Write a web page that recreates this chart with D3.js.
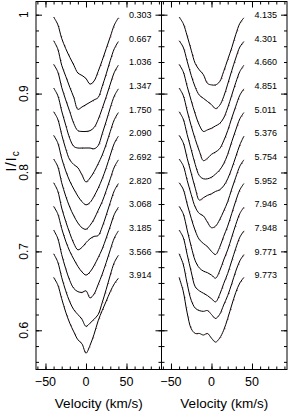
<!DOCTYPE html>
<html>
<head>
<meta charset="utf-8">
<script src="https://cdn.jsdelivr.net/npm/d3@7"></script>
<style>
    body { margin: 0; background: #fff; }
    svg text { font-family: "Liberation Sans", Arial, sans-serif; fill: #000; }
</style>
</head>
<body>
<svg id="chart"></svg>
<script>
// velocity grid (km/s) of the line profiles
const velocity = [-40, -35, -30, -25, -20, -15, -10, -5, 0, 5, 10, 15, 20, 25, 30, 35, 40];

// rotation phases written next to each profile
const phasesLeft = ["0.303", "0.667", "1.036", "1.347", "1.750", "2.090",
    "2.692", "2.820", "3.068", "3.185", "3.566", "3.914"];
const phasesRight = ["4.135", "4.301", "4.660", "4.851", "5.011", "5.376",
    "5.754", "5.952", "7.946", "7.948", "9.771", "9.773"];

// line depth below the (shifted) continuum, one row per phase
const depthsLeft = [
    [0.003, 0.012, 0.030, 0.043, 0.054, 0.064, 0.074, 0.077, 0.081, 0.088, 0.084, 0.072, 0.058, 0.043, 0.028, 0.013, 0.004],
    [0.003, 0.013, 0.034, 0.048, 0.062, 0.075, 0.090, 0.087, 0.084, 0.081, 0.078, 0.075, 0.061, 0.045, 0.028, 0.013, 0.004],
    [0.003, 0.012, 0.032, 0.048, 0.063, 0.078, 0.087, 0.088, 0.088, 0.087, 0.083, 0.073, 0.059, 0.044, 0.028, 0.013, 0.004],
    [0.003, 0.012, 0.032, 0.050, 0.067, 0.077, 0.079, 0.079, 0.079, 0.079, 0.080, 0.076, 0.061, 0.045, 0.028, 0.013, 0.004],
    [0.003, 0.012, 0.032, 0.050, 0.064, 0.070, 0.074, 0.083, 0.092, 0.087, 0.079, 0.069, 0.058, 0.044, 0.028, 0.013, 0.004],
    [0.003, 0.012, 0.032, 0.048, 0.061, 0.071, 0.080, 0.087, 0.091, 0.088, 0.080, 0.070, 0.058, 0.044, 0.028, 0.013, 0.004],
    [0.003, 0.012, 0.033, 0.050, 0.064, 0.075, 0.084, 0.090, 0.092, 0.087, 0.079, 0.068, 0.057, 0.043, 0.028, 0.013, 0.004],
    [0.003, 0.013, 0.035, 0.052, 0.067, 0.080, 0.088, 0.085, 0.079, 0.074, 0.071, 0.070, 0.059, 0.044, 0.028, 0.013, 0.004],
    [0.003, 0.012, 0.031, 0.047, 0.060, 0.070, 0.079, 0.086, 0.090, 0.086, 0.078, 0.068, 0.057, 0.043, 0.028, 0.013, 0.004],
    [0.003, 0.013, 0.034, 0.052, 0.067, 0.077, 0.081, 0.082, 0.080, 0.089, 0.084, 0.072, 0.059, 0.044, 0.028, 0.013, 0.004],
    [0.003, 0.013, 0.033, 0.050, 0.064, 0.074, 0.080, 0.086, 0.095, 0.091, 0.086, 0.080, 0.065, 0.048, 0.030, 0.014, 0.005],
    [0.003, 0.012, 0.030, 0.047, 0.061, 0.072, 0.082, 0.087, 0.099, 0.089, 0.075, 0.058, 0.045, 0.033, 0.021, 0.011, 0.004]
];
const depthsRight = [
    [0.003, 0.011, 0.027, 0.045, 0.062, 0.070, 0.076, 0.087, 0.089, 0.089, 0.085, 0.072, 0.057, 0.042, 0.025, 0.011, 0.004],
    [0.003, 0.011, 0.029, 0.047, 0.062, 0.072, 0.076, 0.080, 0.084, 0.089, 0.085, 0.074, 0.058, 0.041, 0.025, 0.011, 0.004],
    [0.003, 0.012, 0.031, 0.049, 0.066, 0.080, 0.088, 0.086, 0.084, 0.081, 0.078, 0.071, 0.058, 0.042, 0.026, 0.012, 0.004],
    [0.003, 0.012, 0.032, 0.051, 0.068, 0.083, 0.095, 0.092, 0.087, 0.084, 0.080, 0.070, 0.057, 0.041, 0.026, 0.012, 0.004],
    [0.003, 0.012, 0.032, 0.051, 0.070, 0.084, 0.088, 0.088, 0.086, 0.082, 0.077, 0.069, 0.057, 0.041, 0.026, 0.012, 0.004],
    [0.003, 0.012, 0.032, 0.051, 0.070, 0.085, 0.082, 0.079, 0.077, 0.074, 0.072, 0.067, 0.058, 0.045, 0.030, 0.015, 0.004],
    [0.003, 0.011, 0.030, 0.048, 0.064, 0.072, 0.075, 0.083, 0.090, 0.088, 0.080, 0.069, 0.057, 0.041, 0.026, 0.012, 0.004],
    [0.003, 0.011, 0.030, 0.048, 0.064, 0.075, 0.080, 0.084, 0.090, 0.094, 0.085, 0.071, 0.058, 0.042, 0.026, 0.012, 0.004],
    [0.003, 0.012, 0.033, 0.054, 0.072, 0.081, 0.085, 0.087, 0.090, 0.094, 0.085, 0.071, 0.058, 0.042, 0.026, 0.012, 0.004],
    [0.003, 0.012, 0.034, 0.056, 0.075, 0.080, 0.083, 0.086, 0.090, 0.094, 0.085, 0.071, 0.058, 0.042, 0.026, 0.012, 0.004],
    [0.003, 0.016, 0.041, 0.062, 0.072, 0.075, 0.076, 0.075, 0.080, 0.085, 0.080, 0.068, 0.056, 0.041, 0.025, 0.012, 0.004],
    [0.003, 0.020, 0.048, 0.068, 0.074, 0.074, 0.076, 0.074, 0.080, 0.085, 0.080, 0.070, 0.055, 0.038, 0.022, 0.010, 0.003]
];

const offsetStep = 0.03;           // vertical shift between successive profiles
const xMajor = [-50, 0, 50];
const yMajor = [0.6, 0.7, 0.8, 0.9, 1];

const width = 288, height = 412;
const frame = {top: 1.5, bottom: 369.5};
const panels = [
    {x0: 36, x1: 161.5, phases: phasesLeft, depths: depthsLeft, yLabels: true},
    {x0: 161.5, x1: 287, phases: phasesRight, depths: depthsRight, yLabels: false}
];

const svg = d3.select("#chart").attr("width", width).attr("height", height);
const y = d3.scaleLinear().domain([0.5503, 1.0167]).range([frame.bottom, frame.top]);

function drawPanel(p) {
    const x = d3.scaleLinear().domain([-61.7, 93.2]).range([p.x0, p.x1]);
    const g = svg.append("g");

    // ticks, all pointing inwards
    const xMinor = d3.range(-60, 91, 10);
    const yMinor = d3.range(28, 51).map(function (d) { return d / 50; });
    const axes = [
        [d3.axisBottom(x).tickValues(xMajor).tickSize(-6), `translate(0,${frame.bottom})`],
        [d3.axisBottom(x).tickValues(xMinor).tickSize(-3), `translate(0,${frame.bottom})`],
        [d3.axisTop(x).tickValues(xMajor).tickSize(-6), `translate(0,${frame.top})`],
        [d3.axisTop(x).tickValues(xMinor).tickSize(-3), `translate(0,${frame.top})`],
        [d3.axisLeft(y).tickValues(yMajor).tickSize(-6), `translate(${p.x0},0)`],
        [d3.axisLeft(y).tickValues(yMinor).tickSize(-3), `translate(${p.x0},0)`],
        [d3.axisRight(y).tickValues(yMajor).tickSize(-6), `translate(${p.x1},0)`],
        [d3.axisRight(y).tickValues(yMinor).tickSize(-3), `translate(${p.x1},0)`]
    ];
    axes.forEach(function (a) {
        const ax = g.append("g").attr("transform", a[1]).call(a[0].tickFormat(""));
        ax.select(".domain").remove();
        ax.selectAll("line").attr("stroke", "#000").attr("stroke-width", 1);
    });

    g.append("rect")
        .attr("x", p.x0).attr("y", frame.top)
        .attr("width", p.x1 - p.x0).attr("height", frame.bottom - frame.top)
        .attr("fill", "none").attr("stroke", "#000").attr("stroke-width", 1);

    // x tick labels
    g.selectAll("text.xt")
        .data(xMajor)
        .enter()
        .append("text")
        .attr("class", "xt")
        .attr("x", function (d) { return x(d); })
        .attr("y", 386)
        .attr("text-anchor", "middle")
        .style("font-size", "12.5px")
        .text(function (d) { return d < 0 ? "\u2212" + Math.abs(d) : d; });

    g.append("text")
        .attr("x", (p.x0 + p.x1) / 2)
        .attr("y", 408)
        .attr("text-anchor", "middle")
        .style("font-size", "13.5px")
        .text("Velocity (km/s)");

    if (p.yLabels) {
        g.selectAll("text.yt")
            .data(yMajor)
            .enter()
            .append("text")
            .attr("class", "yt")
            .attr("transform", function (d) { return `translate(28,${y(d)}) rotate(-90)`; })
            .attr("text-anchor", "middle")
            .style("font-size", "12px")
            .text(function (d) { return d === 1 ? "1" : d.toFixed(1); });

        const t = g.append("text")
            .attr("transform", `translate(15.5,161) rotate(-90)`)
            .attr("text-anchor", "middle")
            .style("font-size", "15px")
            .style("letter-spacing", "1px");
        t.append("tspan").text("I/I");
        t.append("tspan").attr("dy", 3).style("font-size", "10px").text("c");
    }

    const line = d3.line()
        .x(function (d) { return x(d.v); })
        .y(function (d) { return y(d.i); })
        .curve(d3.curveCatmullRom.alpha(0.5));

    const series = p.depths.map(function (row, k) {
        return row.map(function (dep, j) {
            return {v: velocity[j], i: 1 - k * offsetStep - dep};
        });
    });

    // faint observed-data traces behind the fits
    g.selectAll("path.obs")
        .data(series)
        .enter()
        .append("path")
        .attr("class", "obs")
        .attr("d", line)
        .attr("transform", "translate(0.7,0.3)")
        .attr("fill", "none")
        .attr("stroke", "#d02020")
        .attr("stroke-width", 1)
        .attr("stroke-opacity", 0.8)
        .attr("stroke-dasharray", "1,9");

    g.selectAll("path.fit")
        .data(series)
        .enter()
        .append("path")
        .attr("class", "fit")
        .attr("d", line)
        .attr("fill", "none")
        .attr("stroke", "#000")
        .attr("stroke-width", 1);

    g.selectAll("text.phase")
        .data(p.phases)
        .enter()
        .append("text")
        .attr("class", "phase")
        .attr("x", x(53))
        .attr("y", function (d, k) { return y(1 - k * offsetStep) + 3.3; })
        .style("font-size", "9px")
        .text(function (d) { return d; });
}

panels.forEach(drawPanel);
</script>
</body>
</html>
